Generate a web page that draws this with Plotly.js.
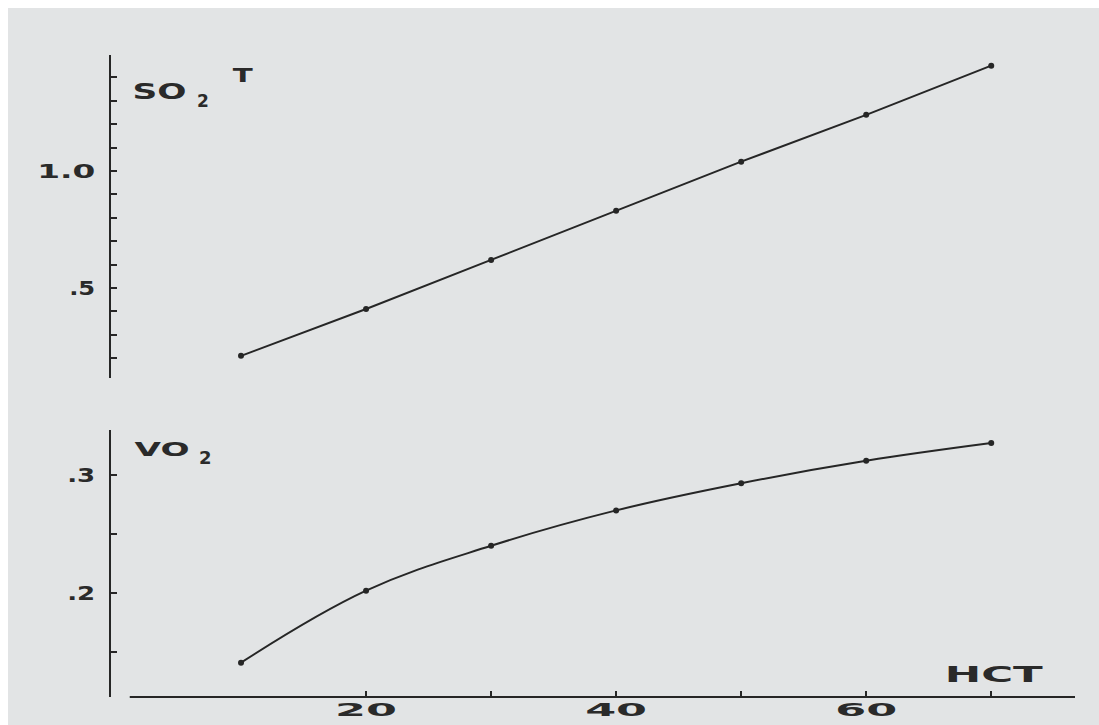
<!DOCTYPE html>
<html>
<head>
<meta charset="utf-8">
<script src="https://cdn.plot.ly/plotly-3.0.1.min.js"></script>
<style>
  html, body { margin:0; padding:0; background:#ffffff; width:1099px; height:725px; overflow:hidden; }
  #chart { position:absolute; left:8px; top:8px; width:1091px; height:717px; }
</style>
</head>
<body>
<div id="chart"></div>
<script>
// ---- data ----
const hct  = [10, 20, 30, 40, 50, 60, 70];
const so2t = [0.21, 0.41, 0.62, 0.83, 1.04, 1.24, 1.45];
const vo2  = [0.141, 0.202, 0.240, 0.270, 0.293, 0.312, 0.327];

const xTickVals = [20, 30, 40, 50, 60, 70];
const xTickText = ['20', '', '40', '', '60', ''];
const topTickVals = [0.2, 0.3, 0.4, 0.5, 0.6, 0.7, 0.8, 0.9, 1.0, 1.1, 1.2, 1.3, 1.4];
const topTickText = ['', '', '', '.5', '', '', '', '', '1.0', '', '', '', ''];
const botTickVals = [0.15, 0.2, 0.25, 0.3];
const botTickText = ['', '.2', '', '.3'];

const ink = '#262626';
const bg = '#e2e4e5';
const tickFont = {family: 'DejaVu Sans', size: 19, color: '#2a2a2a', weight: 'bold'};
const xTickFont = {family: 'DejaVu Sans', size: 18, color: '#2a2a2a', weight: 'bold'};

const traces = [
  {x: hct, y: vo2, xaxis: 'x', yaxis: 'y', type: 'scatter', mode: 'lines+markers',
   line: {color: ink, width: 2, shape: 'spline', smoothing: 1.1}, marker: {color: ink, size: 6},
   hoverinfo: 'skip'},
  {x: hct, y: so2t, xaxis: 'x', yaxis: 'y2', type: 'scatter', mode: 'lines+markers',
   line: {color: ink, width: 2}, marker: {color: ink, size: 6}, hoverinfo: 'skip'}
];

const layout = {
  width: 1091, height: 717,
  margin: {l: 103, r: 24, t: 47, b: 28},
  paper_bgcolor: bg, plot_bgcolor: bg,
  showlegend: false,
  xaxis: {
    range: [-0.4, 76.7], anchor: 'y', showgrid: false, zeroline: false,
    showline: false,
    tickmode: 'array', tickvals: xTickVals, ticktext: xTickText,
    ticks: 'inside', ticklen: 6, tickwidth: 2, tickcolor: ink,
    tickfont: xTickFont, ticklabelstandoff: 0, automargin: false
  },
  yaxis: {
    domain: [0, 0.4159], range: [0.1119, 0.3381], anchor: 'x',
    showgrid: false, zeroline: false, showline: true, linecolor: ink, linewidth: 2,
    tickmode: 'array', tickvals: botTickVals, ticktext: botTickText,
    ticks: 'inside', ticklen: 6, tickwidth: 2, tickcolor: ink,
    tickfont: tickFont, ticklabelstandoff: 10, automargin: false
  },
  yaxis2: {
    domain: [0.4969, 1], range: [0.1154, 1.4957], anchor: 'x',
    showgrid: false, zeroline: false, showline: true, linecolor: ink, linewidth: 2,
    tickmode: 'array', tickvals: topTickVals, ticktext: topTickText,
    ticks: 'inside', ticklen: 6, tickwidth: 2, tickcolor: ink,
    tickfont: tickFont, ticklabelstandoff: 10, automargin: false
  },
  shapes: [
    // HCT axis line, which starts a little right of the vertical axis in the reference
    {type: 'line', xref: 'x', yref: 'paper', x0: 1.1, x1: 76.7, y0: 0, y1: 0,
     line: {color: ink, width: 2}}
  ],
  annotations: [
    {text: 'SO', xref: 'paper', yref: 'paper', x: 0.0508, y: 0.9424, xanchor: 'center', yanchor: 'middle',
     showarrow: false, font: {family: 'DejaVu Sans', size: 21, color: '#2a2a2a', weight: 'bold'}},
    {text: '2', xref: 'paper', yref: 'paper', x: 0.0955, y: 0.9283, xanchor: 'center', yanchor: 'middle',
     showarrow: false, font: {family: 'DejaVu Sans', size: 17, color: '#2a2a2a', weight: 'bold'}},
    {text: 'T', xref: 'paper', yref: 'paper', x: 0.1369, y: 0.9688, xanchor: 'center', yanchor: 'middle',
     showarrow: false, font: {family: 'DejaVu Sans', size: 20, color: '#2a2a2a', weight: 'bold'}},
    {text: 'VO', xref: 'paper', yref: 'paper', x: 0.0529, y: 0.3863, xanchor: 'center', yanchor: 'middle',
     showarrow: false, font: {family: 'DejaVu Sans', size: 20, color: '#2a2a2a', weight: 'bold'}},
    {text: '2', xref: 'paper', yref: 'paper', x: 0.0976, y: 0.3723, xanchor: 'center', yanchor: 'middle',
     showarrow: false, font: {family: 'DejaVu Sans', size: 18, color: '#2a2a2a', weight: 'bold'}},
    {text: 'HCT', xref: 'paper', yref: 'paper', x: 0.916, y: 0.0343, xanchor: 'center', yanchor: 'middle',
     showarrow: false, font: {family: 'DejaVu Sans', size: 22, color: '#2a2a2a', weight: 'bold'}}
  ]
};

// widths of the wide typewriter-style lettering in the reference
const stretch = {'20': 62, '40': 62, '60': 62, '1.0': 58, '.5': 26, '.2': 28, '.3': 28,
                 'HCT': 98, 'SO': 54, 'VO': 55, 'T': 20};

Plotly.newPlot('chart', traces, layout, {staticPlot: true, displayModeBar: false}).then(function (gd) {
  gd.querySelectorAll('svg text').forEach(function (t) {
    const s = t.textContent.trim();
    if (stretch[s]) {
      t.setAttribute('textLength', stretch[s]);
      t.setAttribute('lengthAdjust', 'spacingAndGlyphs');
    }
  });
});
</script>
</body>
</html>
